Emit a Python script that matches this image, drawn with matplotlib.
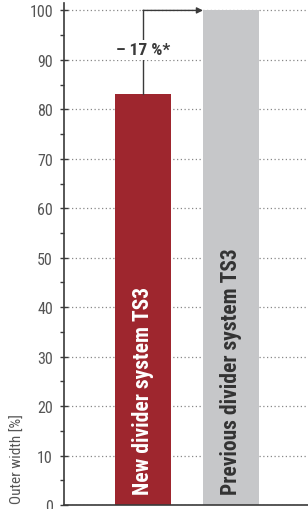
import matplotlib
matplotlib.use('Agg')
import matplotlib.pyplot as plt
from matplotlib import font_manager
from matplotlib.ticker import MultipleLocator

# data
labels = ['New divider system TS3', 'Previous divider system TS3']
values = [83, 100]
colors = ['#9E262E', '#C6C7C9']
label_colors = ['white', '#333333']
diff_text = '– 17 %*'
yticks = list(range(0, 101, 10))

# pick a condensed sans if one is installed
fonts = font_manager.fontManager.ttflist
names = {f.name for f in fonts}
stretch = 'normal'
family = 'Liberation Sans'
for cand in ['Roboto Condensed', 'Liberation Sans Narrow', 'Open Sans Condensed']:
    if cand in names:
        family = cand
        break
else:
    if any(f.name == 'DejaVu Sans' and f.stretch == 'condensed' for f in fonts):
        family, stretch = 'DejaVu Sans', 'condensed'
plt.rcParams['font.family'] = [family, 'DejaVu Sans']
plt.rcParams['font.stretch'] = stretch
dark = '#3a3a3a'

fig = plt.figure(figsize=(3.08, 5.10), dpi=100)
ax = fig.add_axes([64/308, 4/510, 244/308, 502/510])

x = [0, 1]
w = 56/88
ax.bar(x, values, width=w, color=colors, zorder=2)

for xi, lab, c in zip(x, labels, label_colors):
    ax.text(xi, 2.3, lab, rotation=90, ha='center', va='bottom',
            color=c, fontsize=15.5, fontweight='bold', zorder=3)

# difference arrow
ax.plot([0, 0], [values[0], values[1]], color=dark, lw=1, zorder=3)
ax.annotate('', xy=(1 - w/2, values[1]), xytext=(0, values[1]),
            arrowprops=dict(arrowstyle='-|>', color=dark, lw=1,
                            mutation_scale=9, shrinkA=0, shrinkB=0),
            zorder=3)
ax.text(0, 92.0, diff_text, ha='center', va='center', fontsize=12.5,
        fontweight='bold', color=dark, zorder=4,
        bbox=dict(facecolor='white', edgecolor='none', pad=1.5))

ax.set_xlim(-79/88, 1 + 77/88)
ax.set_ylim(0, 101.5)
ax.set_yticks(yticks)
ax.yaxis.set_minor_locator(MultipleLocator(5))
ax.set_xticks([])
ax.grid(axis='y', which='major', linestyle=(0, (1, 2)), color='#888888',
        lw=0.9, zorder=0)
ax.tick_params(axis='y', which='major', direction='inout', length=6,
               width=1, color=dark, labelsize=11.5, labelcolor='#555555', pad=5)
ax.tick_params(axis='y', which='minor', direction='out', length=3,
               width=1, color=dark)
for s in ['top', 'right']:
    ax.spines[s].set_visible(False)
for s in ['left', 'bottom']:
    ax.spines[s].set_color(dark)
    ax.spines[s].set_linewidth(1.2)

fig.text(18/308, 6/510, 'Outer width [%]', rotation=90, ha='center',
         va='bottom', fontsize=11, color='#555555')

fig.savefig('out.png', dpi=100)
